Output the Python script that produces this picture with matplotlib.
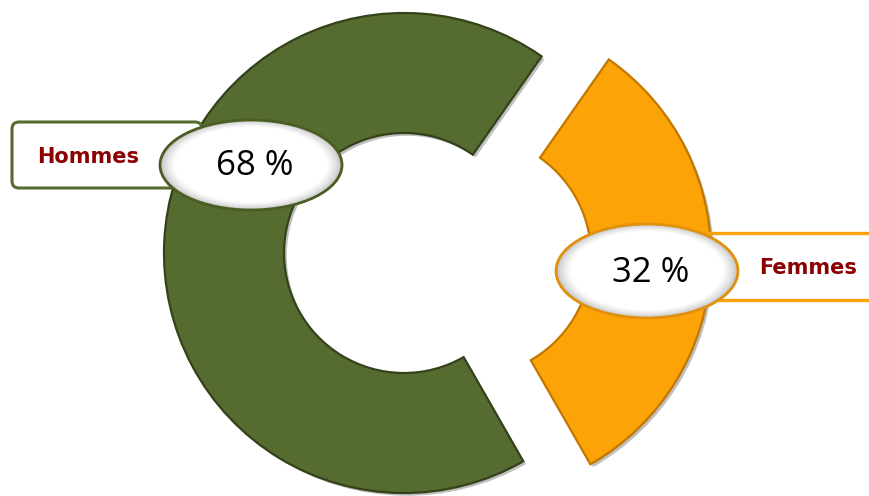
import matplotlib
matplotlib.use("Agg")
import matplotlib.pyplot as plt
from matplotlib.patches import Ellipse, FancyBboxPatch
import matplotlib.patheffects as pe

# Share of each group
categories = ["Hommes", "Femmes"]
shares = [68, 32]
colors = ["#566b2f", "#fca307"]
edge_colors = ["#34421a", "#c27700"]
label_color = "#8b0000"

W, H = 870, 496
fig = plt.figure(figsize=(W / 100, H / 100), dpi=100)
ax = fig.add_axes([0, 0, 1, 1])

cx, cy = 404, H - 253
radius = 240
ring = 120

# explode is given in data units, so scale it by the radius
wedges, _ = ax.pie(
    shares,
    colors=colors,
    startangle=55,
    counterclock=True,
    radius=radius,
    center=(cx, cy),
    explode=[0, 0.28 * radius],
    wedgeprops=dict(width=ring, linewidth=1.6),
)
for w, ec in zip(wedges, edge_colors):
    w.set_edgecolor(ec)
    w.set_path_effects([
        pe.SimplePatchShadow(offset=(2, -2), shadow_rgbFace="#000000", alpha=0.25),
        pe.Normal(),
    ])

ax.set_xlim(0, W)
ax.set_ylim(0, H)
ax.set_aspect("equal")
ax.axis("off")

# Label boxes
box_h = FancyBboxPatch((12, H - 188), 190, 66,
                       boxstyle="round,pad=0,rounding_size=7",
                       facecolor="white", edgecolor="#566b2f", linewidth=2.2, zorder=3)
ax.add_patch(box_h)
ax.plot([705, 880], [H - 233, H - 233], color="#f9a20a", linewidth=2.4, zorder=3,
        solid_capstyle="butt")
ax.plot([705, 880], [H - 300, H - 300], color="#f9a20a", linewidth=2.4, zorder=3,
        solid_capstyle="butt")


def shaded_ellipse(x, y, w, h, ec):
    # soft grey rim fading to a white centre
    steps = 14
    for i in range(steps):
        f = 1.0 - 0.16 * i / (steps - 1)
        g = 0.72 + 0.28 * (i / (steps - 1)) ** 0.6
        ax.add_patch(Ellipse((x, y + 3 * (1 - f)), w * f, h * f,
                             facecolor=(g, g, g), edgecolor="none", zorder=4 + i * 0.01))
    ax.add_patch(Ellipse((x, y), w, h, facecolor="none", edgecolor=ec,
                         linewidth=2.0, zorder=5))


shaded_ellipse(251, H - 165, 182, 90, "#4a5e24")
shaded_ellipse(647, H - 271, 182, 94, "#e0900a")

ax.text(88, H - 157, categories[0], color=label_color, fontsize=15,
        fontweight="bold", family="DejaVu Sans", ha="center", va="center", zorder=6)
ax.text(808, H - 268, categories[1], color=label_color, fontsize=15,
        fontweight="bold", family="DejaVu Sans", ha="center", va="center", zorder=6)

ax.text(255, H - 166, f"{shares[0]} %", color="black", fontsize=25,
        family="Open Sans", ha="center", va="center", zorder=6)
ax.text(651, H - 273, f"{shares[1]} %", color="black", fontsize=25,
        family="Open Sans", ha="center", va="center", zorder=6)

fig.savefig("out.png", dpi=100, facecolor="white")
